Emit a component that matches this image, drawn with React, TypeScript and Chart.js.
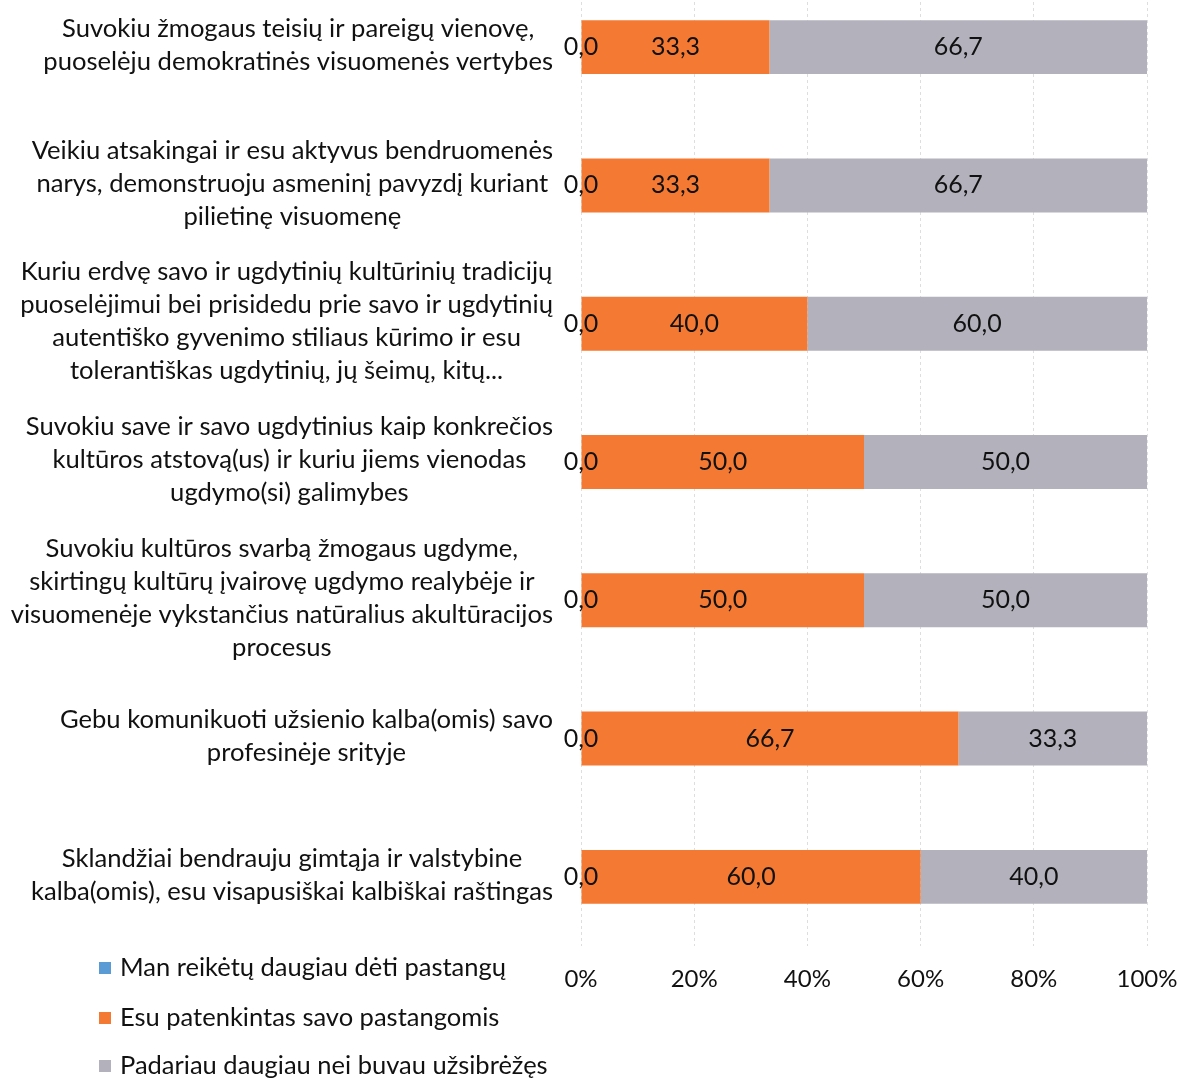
import React, { useEffect, useRef } from "react";
import { Chart, registerables } from "chart.js";

Chart.register(...registerables);

const categories: string[][] = [
  ["Suvokiu žmogaus teisių ir pareigų vienovę,", "puoselėju demokratinės visuomenės vertybes"],
  ["Veikiu atsakingai ir esu aktyvus bendruomenės", "narys, demonstruoju asmeninį pavyzdį kuriant", "pilietinę visuomenę"],
  [
    "Kuriu erdvę savo ir ugdytinių kultūrinių tradicijų",
    "puoselėjimui bei prisidedu prie savo ir ugdytinių",
    "autentiško gyvenimo stiliaus kūrimo ir esu",
    "tolerantiškas ugdytinių, jų šeimų, kitų...",
  ],
  ["Suvokiu save ir savo ugdytinius kaip konkrečios", "kultūros atstovą(us) ir kuriu jiems vienodas", "ugdymo(si) galimybes"],
  [
    "Suvokiu kultūros svarbą žmogaus ugdyme,",
    "skirtingų kultūrų įvairovę ugdymo realybėje ir",
    "visuomenėje vykstančius natūralius akultūracijos",
    "procesus",
  ],
  ["Gebu komunikuoti užsienio kalba(omis) savo", "profesinėje srityje"],
  ["Sklandžiai bendrauju gimtąja ir valstybine", "kalba(omis), esu visapusiškai kalbiškai raštingas"],
];

const seriesNames = [
  "Man reikėtų daugiau dėti pastangų",
  "Esu patenkintas savo pastangomis",
  "Padariau daugiau nei buvau užsibrėžęs",
];

const needMore = [0, 0, 0, 0, 0, 0, 0];
const satisfied = [33.3, 33.3, 40.0, 50.0, 50.0, 66.7, 60.0];
const didMore = [66.7, 66.7, 60.0, 50.0, 50.0, 33.3, 40.0];

const xTicks = [0, 20, 40, 60, 80, 100];

const colors = ["#5B9BD5", "#F47A33", "#B3B2BC"];

const FONT = "Lato, 'Open Sans', sans-serif";
const FS_CAT = 25.6;
const FS_VAL = 25;
const FS_TICK = 24;
const FS_LEG = 25.5;
const TEXT = "#111111";

const fmt = (v: number) => v.toFixed(1).replace(".", ",");

export default function App() {
  const ref = useRef<HTMLCanvasElement | null>(null);

  useEffect(() => {
    if (!ref.current) return;

    const yLabelPlugin = {
      id: "yLabels",
      afterDraw(chart: any) {
        const ctx = chart.ctx;
        const ys = chart.scales.y;
        ctx.save();
        ctx.font = `${FS_CAT}px ${FONT}`;
        ctx.fillStyle = TEXT;
        ctx.textAlign = "center";
        ctx.textBaseline = "middle";
        const lh = 33;
        categories.forEach((lines, i) => {
          const cy = ys.getPixelForValue(i) - 2;
          const maxW = Math.max(...lines.map((l) => ctx.measureText(l).width));
          const cx = 553 - maxW / 2;
          const y0 = cy - ((lines.length - 1) * lh) / 2;
          lines.forEach((l, j) => ctx.fillText(l, cx, y0 + j * lh));
        });
        ctx.restore();
      },
    };

    const valuePlugin = {
      id: "values",
      afterDatasetsDraw(chart: any) {
        const ctx = chart.ctx;
        ctx.save();
        ctx.font = `${FS_VAL}px ${FONT}`;
        ctx.fillStyle = TEXT;
        ctx.textAlign = "center";
        ctx.textBaseline = "middle";
        chart.data.datasets.forEach((ds: any, di: number) => {
          const meta = chart.getDatasetMeta(di);
          meta.data.forEach((el: any, i: number) => {
            const v = ds.data[i];
            const x = (el.x + el.base) / 2;
            ctx.fillText(fmt(v), x, el.y);
          });
        });
        ctx.restore();
      },
    };

    const legendPlugin = {
      id: "customLegend",
      afterDraw(chart: any) {
        const ctx = chart.ctx;
        ctx.save();
        ctx.font = `${FS_LEG}px ${FONT}`;
        ctx.textAlign = "left";
        ctx.textBaseline = "middle";
        const ys = [990, 1040, 1088];
        chart.data.datasets.forEach((ds: any, i: number) => {
          const y = ys[i];
          ctx.fillStyle = ds.backgroundColor;
          ctx.fillRect(99, y - 6, 12, 12);
          ctx.fillStyle = TEXT;
          ctx.fillText(ds.label, 120, y);
        });
        ctx.restore();
      },
    };

    const chart = new Chart(ref.current, {
      type: "bar",
      data: {
        labels: categories.map((c) => c.join(" ")),
        datasets: [
          { label: seriesNames[0], data: needMore, backgroundColor: colors[0] },
          { label: seriesNames[1], data: satisfied, backgroundColor: colors[1] },
          { label: seriesNames[2], data: didMore, backgroundColor: colors[2] },
        ],
      },
      options: {
        indexAxis: "y",
        animation: false,
        responsive: false,
        maintainAspectRatio: false,
        layout: { padding: { top: 0, right: 31, left: 0, bottom: 0 } },
        datasets: { bar: { barPercentage: 0.78, categoryPercentage: 0.5, borderWidth: 0 } } as any,
        plugins: {
          legend: { display: false },
          tooltip: { enabled: false },
        },
        scales: {
          x: {
            stacked: true,
            min: 0,
            max: 100,
            afterBuildTicks: (s: any) => {
              s.ticks = xTicks.map((v) => ({ value: v }));
            },
            ticks: {
              callback: (v: any) => `${v}%`,
              font: { family: FONT, size: FS_TICK },
              color: TEXT,
              padding: 19,
            },
            grid: {
              color: "#dedede",
              drawTicks: false,
              lineWidth: 1,
            },
            border: { display: false, dash: [3, 3] },
            afterFit: (s: any) => {
              s.height = 133;
              s.paddingLeft = 0;
              s.paddingRight = 0;
            },
          },
          y: {
            stacked: true,
            ticks: { display: false },
            grid: { display: false },
            border: { display: false },
            afterFit: (s: any) => {
              s.width = 581;
            },
          },
        },
      },
      plugins: [yLabelPlugin, valuePlugin, legendPlugin],
    });

    return () => chart.destroy();
  }, []);

  return (
    <div style={{ position: "absolute", left: 0, top: -22, width: 1178, height: 1101, background: "#fff" }}>
      <canvas ref={ref} width={1178} height={1101} style={{ width: 1178, height: 1101, display: "block" }} />
    </div>
  );
}
